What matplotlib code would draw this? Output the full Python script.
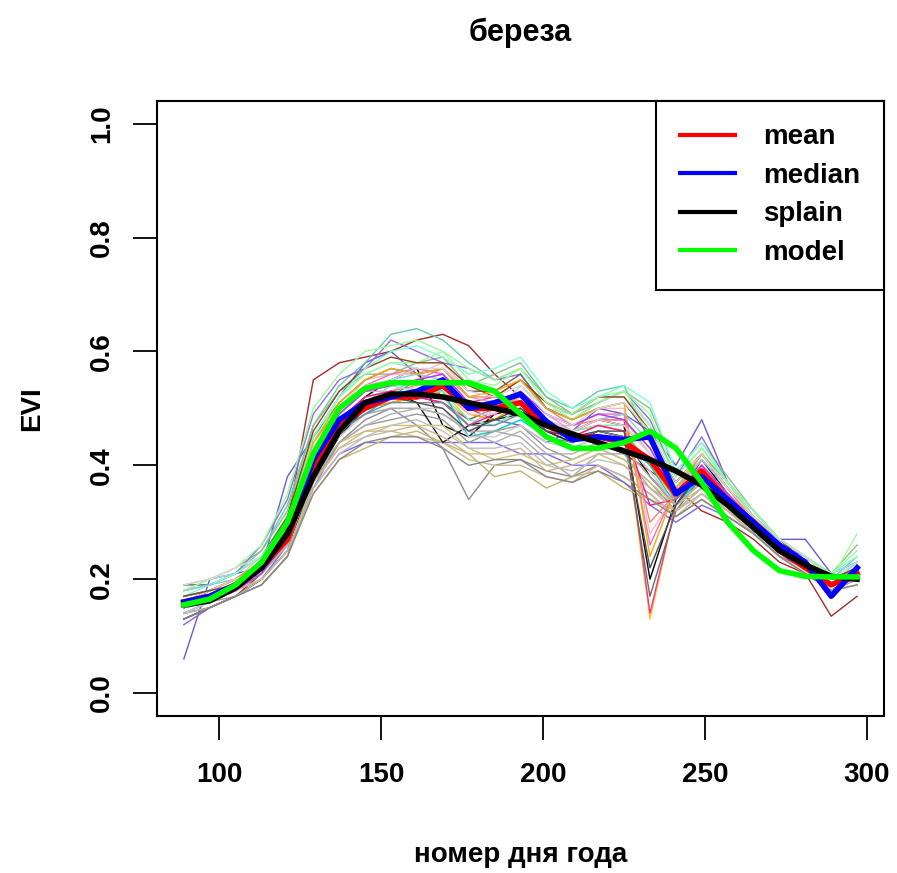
import matplotlib
matplotlib.use("Agg")
import matplotlib.pyplot as plt

plt.rcParams['font.family'] = ['Liberation Sans', 'DejaVu Sans']
plt.rcParams['font.weight'] = 'bold'

# дни съёмки (8-дневные композиты)
days = [89, 97, 105, 113, 121, 129, 137, 145, 153, 161, 169, 177, 185, 193,
        201, 209, 217, 225, 233, 241, 249, 257, 265, 273, 281, 289, 297]

# отдельные пиксели
pix = [
    [.14, .15, .17, .21, .30, .55, .58, .59, .60, .62, .63, .61, .56, .52, .47, .45, .44, .42, .39, .36, .32, .30, .27, .23, .21, .135, .17],
    [.06, .20, .21, .22, .38, .45, .52, .58, .60, .56, .52, .50, .48, .47, .44, .46, .50, .49, .46, .40, .48, .37, .32, .27, .27, .21, .23],
    [.12, .15, .17, .20, .26, .36, .42, .44, .44, .44, .44, .44, .44, .42, .42, .40, .40, .37, .33, .30, .33, .31, .28, .24, .22, .18, .20],
    [.13, .15, .17, .19, .24, .36, .44, .48, .50, .47, .43, .34, .40, .41, .39, .38, .40, .38, .35, .31, .34, .31, .28, .24, .21, .18, .20],
    [.16, .17, .19, .23, .30, .42, .48, .51, .52, .53, .52, .48, .50, .50, .47, .45, .47, .47, .13, .33, .39, .34, .29, .25, .22, .19, .21],
    [.15, .16, .18, .22, .29, .41, .49, .53, .55, .54, .55, .51, .52, .52, .48, .46, .48, .48, .14, .33, .40, .35, .30, .26, .22, .18, .20],
    [.14, .16, .18, .21, .28, .40, .46, .50, .51, .52, .51, .48, .50, .49, .46, .44, .46, .45, .17, .32, .38, .33, .29, .25, .22, .19, .21],
    [.15, .16, .18, .22, .28, .41, .47, .52, .55, .57, .47, .45, .49, .50, .47, .46, .48, .47, .20, .34, .41, .35, .30, .25, .22, .18, .21],
    [.17, .18, .20, .24, .30, .43, .50, .55, .56, .56, .58, .53, .53, .55, .50, .48, .50, .50, .28, .35, .41, .36, .31, .26, .23, .19, .22],
    [.18, .19, .21, .25, .33, .47, .54, .58, .63, .64, .62, .58, .55, .57, .52, .50, .53, .54, .44, .37, .42, .37, .32, .27, .24, .20, .24],
    [.16, .17, .18, .20, .25, .35, .41, .43, .45, .46, .44, .42, .38, .39, .36, .38, .39, .36, .34, .32, .35, .32, .29, .25, .22, .18, .20],
    [.17, .18, .20, .23, .29, .42, .50, .54, .55, .53, .52, .47, .50, .52, .47, .47, .49, .48, .42, .36, .40, .35, .31, .27, .23, .20, .22],
    [.18, .20, .21, .24, .31, .45, .52, .56, .58, .57, .56, .50, .49, .54, .50, .49, .52, .52, .47, .38, .43, .37, .31, .27, .24, .21, .23],
    [.19, .20, .22, .25, .32, .47, .53, .56, .56, .58, .59, .54, .56, .58, .52, .49, .51, .53, .50, .39, .44, .38, .32, .27, .24, .21, .26],
    [.15, .17, .19, .22, .28, .42, .49, .53, .53, .55, .56, .52, .51, .53, .49, .46, .47, .46, .38, .34, .39, .34, .30, .25, .22, .19, .20],
    [.16, .17, .19, .22, .28, .40, .47, .50, .51, .52, .53, .49, .48, .51, .47, .46, .47, .46, .40, .34, .40, .35, .30, .26, .22, .19, .21],
    [.14, .16, .18, .21, .26, .39, .46, .49, .52, .55, .53, .45, .46, .48, .45, .43, .45, .44, .40, .33, .38, .33, .29, .25, .22, .19, .21],
    [.17, .18, .20, .23, .30, .44, .50, .53, .54, .55, .57, .52, .52, .55, .50, .47, .48, .49, .30, .35, .42, .36, .30, .26, .23, .20, .22],
    [.15, .16, .17, .19, .24, .37, .44, .47, .48, .49, .48, .44, .46, .47, .43, .41, .43, .41, .37, .32, .36, .32, .28, .24, .21, .18, .20],
    [.18, .19, .21, .26, .34, .49, .55, .57, .62, .60, .58, .57, .55, .56, .50, .48, .51, .53, .48, .38, .45, .37, .31, .26, .24, .20, .22],
    [.15, .16, .18, .21, .26, .37, .43, .45, .46, .45, .44, .41, .40, .40, .38, .37, .40, .38, .35, .31, .35, .31, .28, .24, .21, .18, .19],
    [.13, .15, .17, .20, .25, .38, .45, .50, .53, .51, .44, .47, .48, .49, .46, .44, .46, .45, .38, .33, .39, .34, .29, .25, .22, .19, .20],
    [.19, .19, .21, .24, .31, .45, .51, .55, .57, .56, .57, .53, .53, .56, .50, .48, .50, .51, .45, .37, .42, .36, .31, .27, .24, .20, .22],
    [.16, .18, .20, .23, .29, .43, .50, .54, .56, .57, .56, .51, .51, .53, .49, .47, .49, .49, .26, .36, .41, .36, .31, .26, .23, .19, .21],
    [.17, .18, .20, .22, .28, .41, .48, .52, .53, .54, .55, .50, .50, .52, .48, .46, .48, .48, .43, .35, .40, .35, .30, .26, .23, .20, .22],
    [.16, .18, .19, .22, .27, .40, .47, .51, .54, .53, .53, .48, .47, .50, .46, .46, .47, .47, .42, .34, .39, .34, .30, .26, .22, .19, .23],
    [.14, .16, .18, .21, .27, .39, .45, .49, .50, .50, .50, .45, .45, .47, .44, .43, .45, .44, .39, .33, .37, .33, .29, .25, .22, .19, .20],
    [.17, .18, .20, .22, .27, .39, .44, .46, .47, .47, .47, .43, .41, .42, .40, .41, .43, .41, .37, .33, .36, .33, .29, .25, .22, .19, .21],
    [.15, .17, .19, .21, .27, .40, .46, .49, .50, .50, .49, .46, .46, .45, .41, .38, .42, .42, .36, .33, .37, .33, .29, .25, .22, .19, .20],
    [.18, .19, .21, .24, .30, .44, .52, .56, .58, .58, .60, .55, .54, .57, .51, .48, .51, .53, .49, .38, .43, .37, .31, .27, .24, .20, .28],
    [.16, .18, .20, .23, .31, .46, .53, .57, .59, .58, .58, .54, .52, .55, .51, .49, .52, .52, .46, .37, .42, .36, .31, .27, .23, .20, .22],
    [.14, .15, .17, .20, .25, .36, .42, .45, .47, .48, .46, .43, .43, .44, .40, .39, .41, .40, .36, .32, .35, .32, .28, .24, .21, .18, .19],
    [.17, .19, .21, .24, .30, .45, .52, .57, .60, .61, .59, .56, .57, .59, .53, .50, .52, .54, .51, .39, .44, .37, .32, .27, .24, .21, .24],
    [.15, .17, .19, .22, .29, .42, .48, .52, .53, .52, .51, .47, .49, .51, .46, .45, .47, .46, .33, .34, .40, .35, .30, .25, .22, .19, .21],
    [.16, .17, .19, .21, .26, .38, .44, .47, .49, .50, .49, .46, .44, .46, .42, .42, .44, .43, .38, .33, .37, .33, .29, .25, .22, .19, .21],
    [.18, .19, .20, .23, .29, .43, .49, .53, .55, .56, .55, .50, .50, .53, .48, .46, .48, .49, .44, .36, .41, .36, .31, .26, .23, .20, .23],
    [.15, .16, .18, .20, .25, .37, .43, .46, .46, .47, .45, .42, .42, .43, .39, .40, .42, .40, .36, .32, .36, .32, .28, .24, .21, .18, .20],
    [.17, .18, .20, .23, .30, .44, .51, .55, .57, .56, .57, .52, .53, .55, .50, .48, .50, .51, .24, .36, .42, .36, .31, .26, .23, .19, .21],
    [.16, .17, .19, .22, .27, .39, .46, .49, .51, .51, .51, .47, .47, .49, .45, .44, .46, .45, .41, .34, .38, .34, .29, .25, .22, .19, .21],
    [.18, .20, .22, .26, .35, .50, .56, .60, .61, .62, .60, .57, .55, .57, .51, .49, .52, .53, .47, .38, .43, .37, .32, .27, .24, .21, .25],
    [.13, .15, .17, .19, .24, .35, .41, .44, .45, .45, .43, .40, .41, .41, .38, .37, .39, .37, .34, .31, .34, .31, .28, .24, .21, .18, .19],
    [.16, .18, .20, .22, .28, .41, .48, .51, .52, .54, .54, .49, .49, .52, .48, .46, .48, .47, .42, .35, .40, .35, .30, .26, .22, .19, .22],
    [.17, .18, .19, .22, .28, .40, .46, .50, .52, .51, .50, .46, .48, .50, .46, .45, .46, .46, .22, .33, .39, .34, .30, .25, .22, .19, .20],
    [.15, .16, .18, .21, .27, .41, .49, .53, .54, .55, .56, .51, .50, .53, .49, .47, .49, .48, .43, .35, .40, .35, .30, .26, .22, .19, .22],
    [.19, .20, .22, .24, .30, .43, .50, .54, .55, .57, .57, .53, .52, .54, .49, .47, .50, .51, .46, .37, .42, .36, .31, .27, .24, .20, .23],
]
pix_colors = ['#A52A2A', '#6A5ACD', '#7A67EE', '#8C8C8C', '#FFC125', '#EE3A8C',
              '#696969', '#000000', '#FFB6C1', '#66CDAA', '#BDB76B', '#C0C0C0',
              '#ADD8E6', '#8FBC8F', '#DDA0DD', '#FFA500', '#00CDCD', '#FA8072',
              '#999999', '#9370DB', '#CDBA96', '#1A1A1A', '#666666', '#FF69B4',
              '#F08080', '#76EEC6', '#CCCCCC', '#CDC673', '#A9A9A9', '#9AFF9A',
              '#8B4513', '#BEBEBE', '#7FFFD4', '#FF1493', '#B0B0B0', '#87CEEB',
              '#D2B48C', '#EEAD0E', '#778899', '#98FB98', '#8B8682', '#FFC0CB',
              '#4F4F4F', '#B23AEE', '#D9D9D9']

mean_evi = [.16, .17, .19, .22, .27, .40, .47, .50, .52, .52, .54, .50, .50, .51,
            .47, .45, .45, .44, .41, .35, .39, .34, .30, .25, .22, .19, .21]
median_evi = [.16, .17, .19, .22, .28, .41, .48, .51, .52, .53, .55, .50, .51, .525,
              .477, .445, .45, .445, .45, .35, .38, .34, .30, .26, .23, .17, .22]
splain = [.155, .162, .185, .22, .28, .38, .46, .51, .525, .525, .52, .51, .50, .49,
          .47, .455, .44, .425, .41, .39, .365, .33, .29, .25, .225, .205, .20]
model = [.155, .165, .19, .23, .30, .42, .50, .535, .545, .545, .545, .545, .53, .49,
         .45, .43, .43, .44, .46, .43, .37, .30, .25, .215, .205, .204, .204]

fig = plt.figure(figsize=(8.97, 8.73), dpi=100)
ax = fig.add_axes([0.175, 0.18, 0.8105, 0.7045])

for row, c in zip(pix, pix_colors):
    ax.plot(days, row, color=c, lw=1.0)

ax.plot(days, mean_evi, color='red', lw=4, label='mean')
ax.plot(days, median_evi, color='blue', lw=4, label='median')
ax.plot(days, splain, color='black', lw=4, label='splain')
ax.plot(days, model, color='#00FF00', lw=4, label='model')

ax.set_xlim(80.7, 305.3)
ax.set_ylim(-0.04, 1.04)
ax.set_xticks([100, 150, 200, 250, 300])
ax.set_yticks([0.0, 0.2, 0.4, 0.6, 0.8, 1.0])
ax.set_yticklabels(['0.0', '0.2', '0.4', '0.6', '0.8', '1.0'], rotation=90, va='center')
ax.tick_params(length=17, width=1.3, labelsize=20)
ax.tick_params(axis='x', pad=16)
ax.tick_params(axis='y', pad=13)
for s in ax.spines.values():
    s.set_linewidth(1.5)

ax.set_title('береза', fontsize=22, fontweight='bold', pad=43)
ax.set_xlabel('номер дня года', fontsize=20, fontweight='bold', labelpad=39)
ax.set_ylabel('EVI', fontsize=20, fontweight='bold', labelpad=32)

leg = ax.legend(loc='upper right', borderaxespad=0, fancybox=False, framealpha=1,
                edgecolor='black', fontsize=20, handlelength=2.0, handletextpad=1.0,
                borderpad=0.85, labelspacing=0.45)
leg.get_frame().set_linewidth(1.5)
for t in leg.get_texts():
    t.set_fontweight('bold')
for h in leg.get_lines():
    h.set_linewidth(3)

fig.savefig('out.png', dpi=100)
